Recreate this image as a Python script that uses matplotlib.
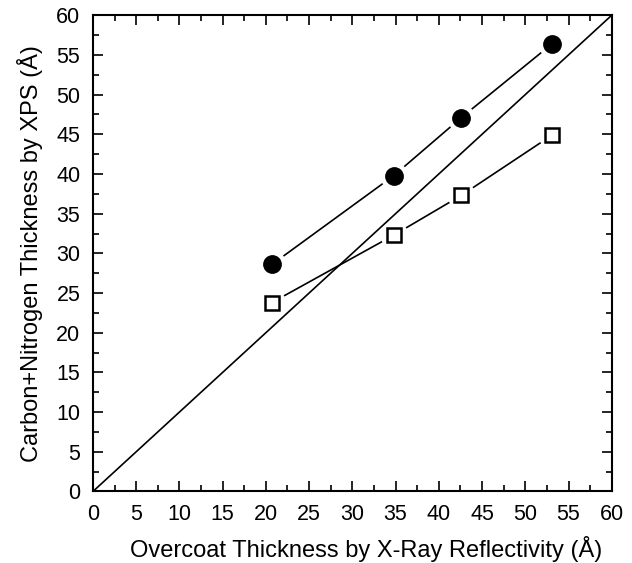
import numpy as np
import matplotlib.pyplot as plt

plt.rcParams['font.family'] = ['Liberation Sans', 'DejaVu Sans']

xrr = [20.7, 34.8, 42.6, 53.1]
cn_circle = [28.6, 39.8, 47.1, 56.4]
cn_square = [23.8, 32.3, 37.3, 44.9]
ident = [0, 60]

fig = plt.figure(figsize=(6.32, 5.63), dpi=100)
ax = fig.add_axes([0.147, 0.127, 0.821, 0.846])

ax.plot(ident, ident, color='black', lw=1.2, zorder=1)

# lines with a small gap at each marker
for y in (cn_circle, cn_square):
    ax.plot(xrr, y, color='black', lw=1.2, zorder=2)
    ax.plot(xrr, y, ls='none', marker='o', ms=19, mfc='white', mec='white', zorder=3)

ax.plot(xrr, cn_circle, ls='none', marker='o', ms=12.5, mfc='black', mec='black', zorder=4)
ax.plot(xrr, cn_square, ls='none', marker='s', ms=10.5, mfc='white', mec='black', mew=1.8, zorder=4)

ax.set_xlim(0, 60)
ax.set_ylim(0, 60)
ax.set_xticks(np.arange(0, 61, 5))
ax.set_yticks(np.arange(0, 61, 5))
ax.set_xticks(np.arange(2.5, 60, 5), minor=True)
ax.set_yticks(np.arange(2.5, 60, 5), minor=True)
ax.tick_params(which='both', direction='in', top=True, right=True, width=1.2)
ax.tick_params(which='major', length=7, labelsize=15.5, pad=9)
ax.tick_params(which='minor', length=4)
for s in ax.spines.values():
    s.set_linewidth(1.5)

ax.set_xlabel('Overcoat Thickness by X-Ray Reflectivity (Å)', fontsize=17)
ax.set_ylabel('Carbon+Nitrogen Thickness by XPS (Å)', fontsize=17)
ax.xaxis.set_label_coords(0.526, -0.093)
ax.yaxis.set_label_coords(-0.096, 0.5)

fig.savefig('out.png', dpi=100)
